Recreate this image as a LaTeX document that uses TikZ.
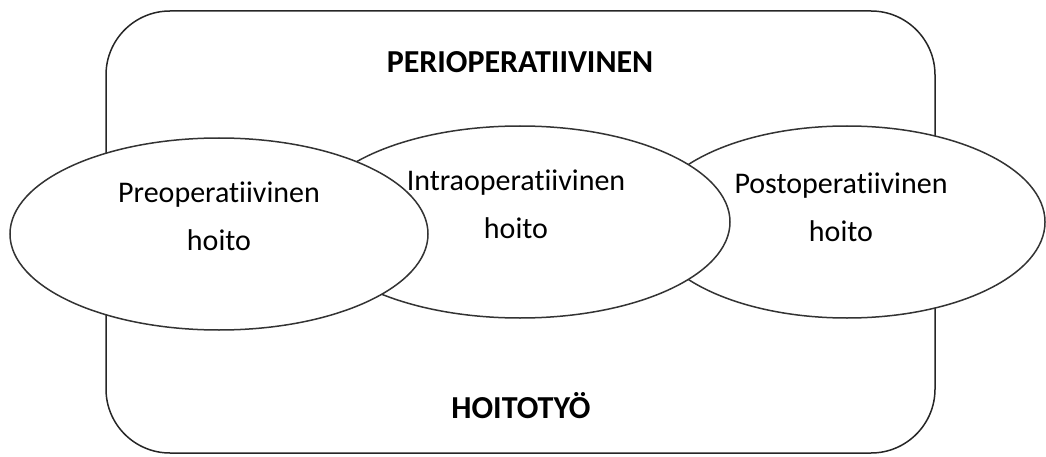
\documentclass[tikz,border=0pt]{standalone}
\usepackage{fontspec}
\setmainfont[Ligatures=NoCommon]{Carlito}
\usetikzlibrary{shapes.geometric,positioning}

\tikzset{
  phase/.style={draw=black!80, line width=1.5pt, fill=white, ellipse, inner sep=0pt},
  phasetext/.style={align=center, font=\fontsize{30}{48}\selectfont},
  titletext/.style={font=\fontsize{32}{36}\selectfont\bfseries}
}

\begin{document}
\begin{tikzpicture}[x=1pt, y=-1pt]
            \useasboundingbox (0,0) rectangle (1046,457);
            % Outer frame
            \draw[black!85, line width=1.5pt, rounded corners=64pt] (106,11) rectangle (935,453);
            \node[titletext] (peri) at (520,62) {PERIOPERATIIVINEN};
            \node[titletext] (hoitotyo) at (521,406) {HOITOTYÖ};

            % Phases, back to front
            \node[phase, minimum width=396pt, minimum height=192pt] (post) at (847,222) {};
            \node[phase, minimum width=420pt, minimum height=192pt] (intra) at (520,222) {};
            \node[phase, minimum width=418pt, minimum height=192pt] (pre) at (219,234) {};

            \node[phasetext] (pretext) at (219,216) {Preoperatiivinen\\hoito};
            \node[phasetext] (intratext) at (516,204) {Intraoperatiivinen\\hoito};
            \node[phasetext] (posttext) at (841,207) {Postoperatiivinen\\hoito};
\end{tikzpicture}
\end{document}
